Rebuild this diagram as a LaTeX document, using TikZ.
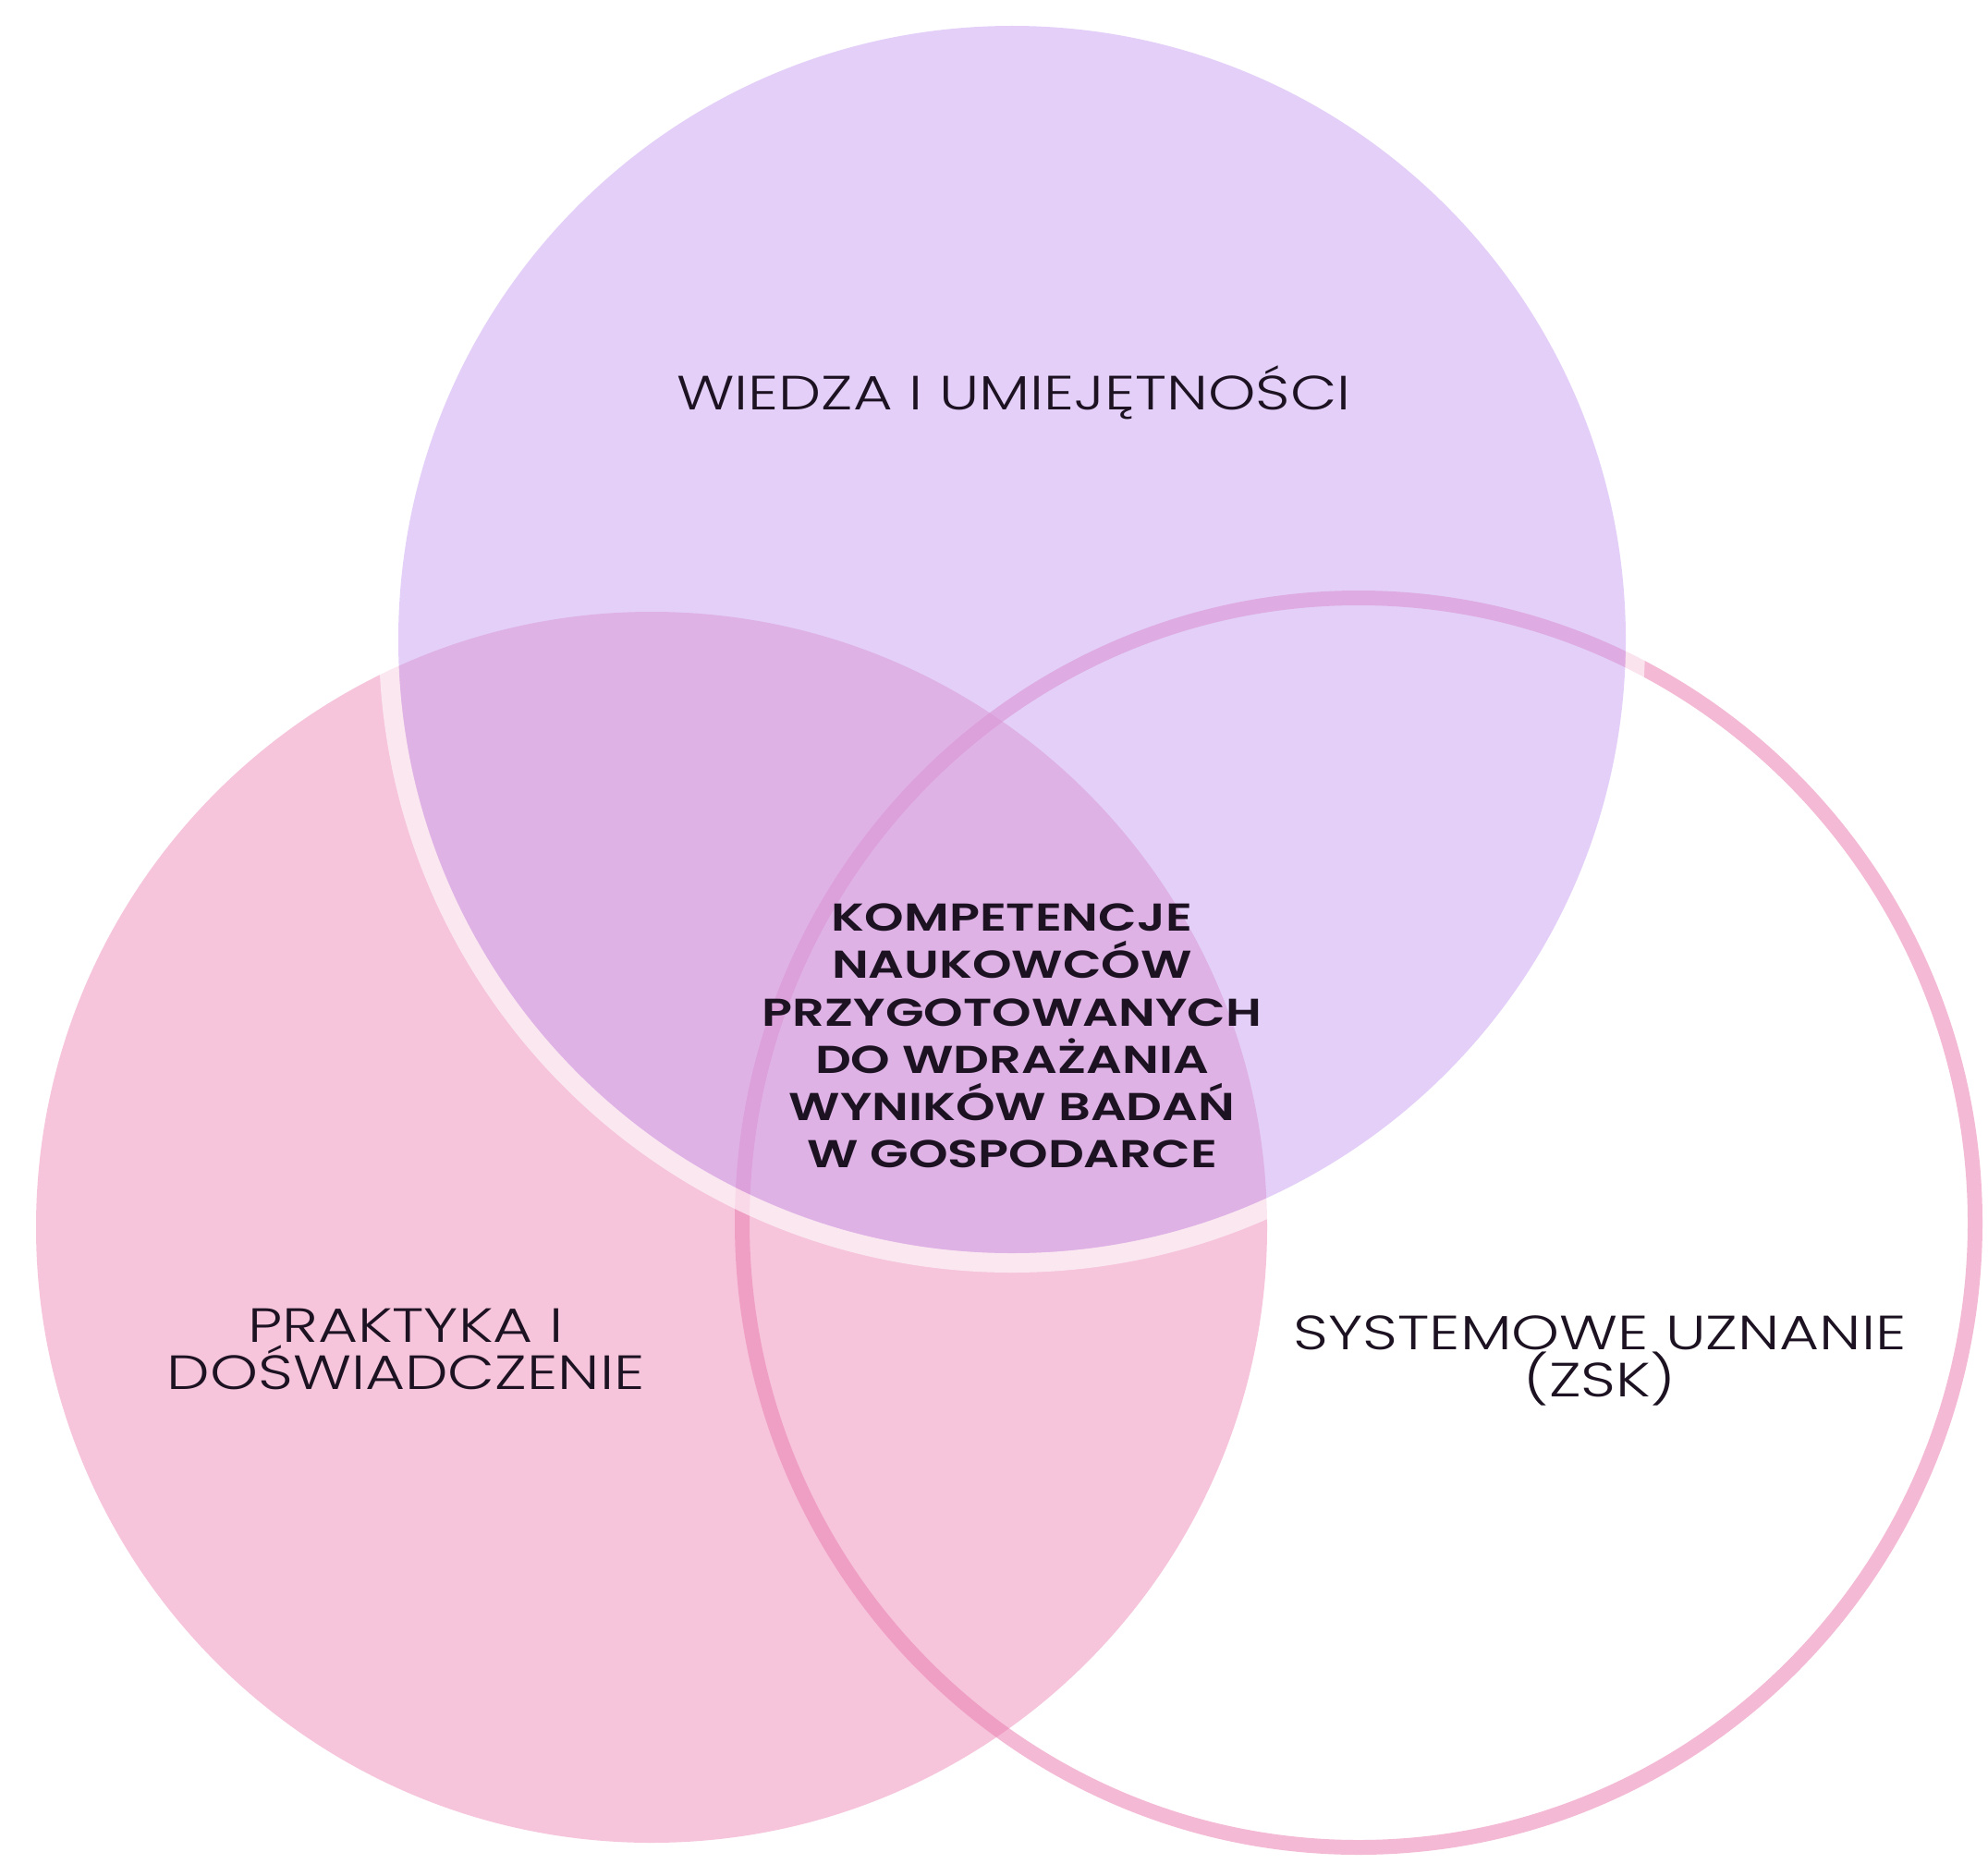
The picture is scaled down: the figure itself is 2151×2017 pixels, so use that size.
\documentclass[tikz,border=0pt]{standalone}
\usepackage{fontspec}
\newfontfamily\lightfont{Poppins Light}
\newfontfamily\heavyfont{Poppins SemiBold}
\definecolor{pinkfill}{RGB}{246,197,219}
\definecolor{ringcol}{RGB}{236,128,178}
\definecolor{lavender}{RGB}{201,161,241}
\definecolor{ink}{RGB}{28,18,34}
\tikzset{
  lighttext/.style={text=ink, align=center, inner sep=0pt, xscale=1.27, transform shape, font=\lightfont\fontsize{52}{51}\selectfont},
  boldtext/.style={text=ink, align=center, inner sep=0pt, xscale=1.29, transform shape, font=\heavyfont\fontsize{42}{51.3}\selectfont},
}
\begin{document}
\begin{tikzpicture}[x=1pt,y=-1pt]
\useasboundingbox[fill=white] (0,0) rectangle (2151,2017);
% left pink circle
\fill[pinkfill] (705,1328) circle[radius=666pt];
% right ring
\draw[ringcol, draw opacity=0.55, line width=16pt] (1470,1323) ellipse[x radius=667pt, y radius=676pt];
% light halo round the top circle
\fill[white, fill opacity=0.6, even odd rule] (1095,692) circle[radius=685pt] (1095,692) circle[radius=664pt];
% top lavender circle
\fill[lavender, fill opacity=0.5] (1095,692) circle[radius=664pt];
% labels
\node[lighttext, anchor=base, xscale=0.99] (wiedza) at (1097,443) {WIEDZA I UMIEJĘTNOŚCI};
\node[lighttext] (praktyka) at (439,1460) {PRAKTYKA I\\DOŚWIADCZENIE};
\node[lighttext] (system) at (1731,1472) {SYSTEMOWE UZNANIE\\(ZSK)};
\node[boldtext] (core) at (1095,1121) {KOMPETENCJE\\NAUKOWCÓW\\PRZYGOTOWANYCH\\DO WDRAŻANIA\\WYNIKÓW BADAŃ\\W GOSPODARCE};
\end{tikzpicture}
\end{document}
